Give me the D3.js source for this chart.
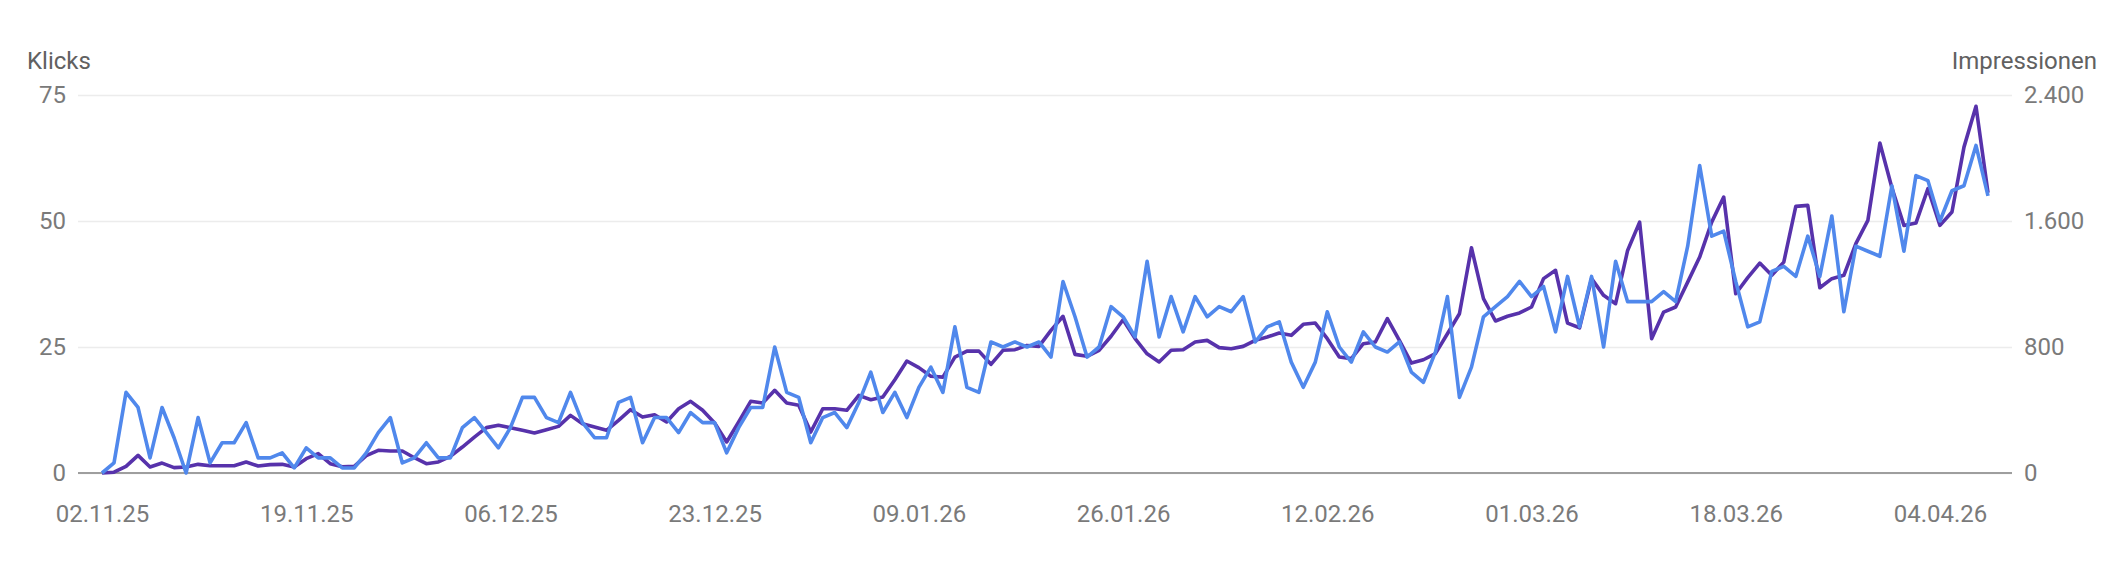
<!DOCTYPE html>
<html lang="de">
<head>
<meta charset="UTF-8">
<title>Klicks und Impressionen</title>
<script src="https://d3js.org/d3.v7.min.js"></script>
<style>
  body { margin: 0; background: #fff; }
  text { font-family: Roboto, "Noto Sans", sans-serif; }
</style>
</head>
<body>
<div id="chart"></div>
<script>
// first day of the series, one value per day
const startDate = "02.11.25"

// Klicks (left axis)
const klicks = [
  0, 2, 16, 13, 3, 13, 7, 0, 11, 2, 6, 6, 10, 3, 3, 4, 1, 5, 3, 3,
  1, 1, 4, 8, 11, 2, 3, 6, 3, 3, 9, 11, 8, 5, 9, 15, 15, 11, 10, 16,
  10, 7, 7, 14, 15, 6, 11, 11, 8, 12, 10, 10, 4, 9, 13, 13, 25, 16, 15, 6,
  11, 12, 9, 14, 20, 12, 16, 11, 17, 21, 16, 29, 17, 16, 26, 25, 26, 25, 26, 23,
  38, 31, 23, 25, 33, 31, 27, 42, 27, 35, 28, 35, 31, 33, 32, 35, 26, 29, 30, 22,
  17, 22, 32, 25, 22, 28, 25, 24, 26, 20, 18, 24, 35, 15, 21, 31, 33, 35, 38, 35,
  37, 28, 39, 29, 39, 25, 42, 34, 34, 34, 36, 34, 45, 61, 47, 48, 38, 29, 30, 40,
  41, 39, 47, 39, 51, 32, 45, 44, 43, 57, 44, 59, 58, 50, 56, 57, 65, 55
]

// Impressionen (right axis)
const impressionen = [
  0, 5, 42, 112, 38, 63, 34, 38, 55, 46, 46, 46, 70, 44, 53, 55, 38, 91, 123, 59,
  40, 42, 110, 144, 140, 140, 97, 59, 70, 106, 165, 228, 288, 303, 288, 271, 254, 275, 296, 366,
  313, 292, 271, 334, 402, 355, 370, 324, 408, 455, 398, 317, 197, 324, 455, 444, 525, 444, 430, 260,
  408, 408, 398, 493, 465, 482, 592, 711, 669, 614, 609, 736, 774, 774, 690, 779, 783, 810, 804, 906,
  995, 753, 741, 779, 868, 973, 853, 757, 705, 779, 783, 832, 842, 796, 789, 804, 842, 863, 889, 874,
  944, 952, 853, 736, 726, 821, 832, 980, 842, 698, 719, 758, 884, 1011, 1430, 1107, 965, 995, 1016, 1054,
  1234, 1287, 952, 922, 1234, 1128, 1075, 1413, 1593, 853, 1022, 1054, 1212, 1371, 1593, 1752, 1138, 1240, 1333, 1255,
  1339, 1693, 1699, 1176, 1234, 1255, 1456, 1604, 2095, 1811, 1572, 1587, 1805, 1572, 1657, 2069, 2328, 1780
]

const dateTicks = ["02.11.25", "19.11.25", "06.12.25", "23.12.25", "09.01.26",
                   "26.01.26", "12.02.26", "01.03.26", "18.03.26", "04.04.26"]
const klicksTicks = [0, 25, 50, 75]
const impressionenTicks = [0, 800, 1600, 2400]

const width = 2120
const height = 570
const plotLeft = 78, plotRight = 2012, plotTop = 95, plotBottom = 473
const pad = 24   // space between plot edge and first / last day

const parse = d3.timeParse("%d.%m.%y")
const start = parse(startDate)
const days = klicks.map((d, i) => d3.timeDay.offset(start, i))

const de = d3.formatLocale({decimal: ",", thousands: ".", grouping: [3], currency: ["", " €"]})
const fmt = de.format(",")

const x = d3.scaleTime()
    .domain([days[0], days[days.length - 1]])
    .range([plotLeft + pad, plotRight - pad])
const yL = d3.scaleLinear().domain([0, 75]).range([plotBottom, plotTop])
const yR = d3.scaleLinear().domain([0, 2400]).range([plotBottom, plotTop])

const svg = d3.select("#chart").append("svg")
    .attr("width", width)
    .attr("height", height)

svg.append("rect")
    .attr("width", width)
    .attr("height", height)
    .attr("fill", "#fff")

// left axis carries the grid lines
const gL = svg.append("g")
    .attr("transform", "translate(" + plotLeft + ",0)")
    .call(d3.axisLeft(yL).tickValues(klicksTicks).tickSize(-(plotRight - plotLeft)).tickPadding(12))
gL.select(".domain").remove()
gL.selectAll(".tick line").attr("stroke", "#ececec").attr("stroke-width", 1.5)
gL.selectAll(".tick text")
    .attr("fill", "#7a7a7a")
    .style("font-size", "24px")

const gR = svg.append("g")
    .attr("transform", "translate(" + plotRight + ",0)")
    .call(d3.axisRight(yR).tickValues(impressionenTicks).tickFormat(fmt).tickSize(0).tickPadding(12))
gR.select(".domain").remove()
gR.selectAll(".tick text")
    .attr("fill", "#7a7a7a")
    .style("font-size", "24px")

const gX = svg.append("g")
    .attr("transform", "translate(0," + plotBottom + ")")
    .call(d3.axisBottom(x).tickValues(dateTicks.map(parse)).tickFormat(d3.timeFormat("%d.%m.%y")).tickSize(0).tickPadding(32))
gX.select(".domain").remove()
gX.selectAll(".tick text")
    .attr("fill", "#7a7a7a")
    .style("font-size", "24px")

// base line
svg.append("line")
    .attr("x1", plotLeft).attr("x2", plotRight)
    .attr("y1", yL(0)).attr("y2", yL(0))
    .attr("stroke", "#9e9e9e")
    .attr("stroke-width", 2)

svg.append("text")
    .attr("x", 27).attr("y", 69)
    .attr("fill", "#616161")
    .style("font-size", "24px")
    .text("Klicks")

svg.append("text")
    .attr("x", 2097).attr("y", 69)
    .attr("text-anchor", "end")
    .attr("fill", "#616161")
    .style("font-size", "24px")
    .text("Impressionen")

const lineR = d3.line().x((d, i) => x(days[i])).y(d => yR(d))
const lineL = d3.line().x((d, i) => x(days[i])).y(d => yL(d))

svg.append("path")
    .datum(impressionen)
    .attr("d", lineR)
    .attr("fill", "none")
    .attr("stroke", "#5732ab")
    .attr("stroke-width", 3.6)
    .attr("stroke-linejoin", "round")

svg.append("path")
    .datum(klicks)
    .attr("d", lineL)
    .attr("fill", "none")
    .attr("stroke", "#5088ec")
    .attr("stroke-width", 3.6)
    .attr("stroke-linejoin", "round")
</script>
</body>
</html>
